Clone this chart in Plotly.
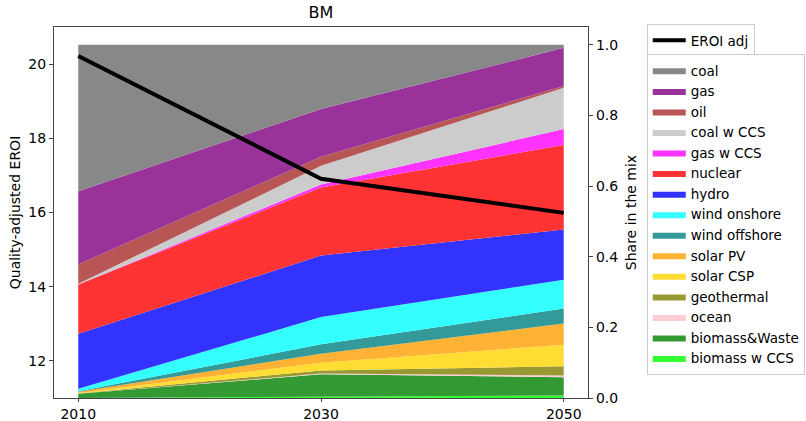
import plotly.graph_objects as go

years = [2010, 2030, 2050]
eroi_adj = [20.22, 16.91, 15.99]

# shares, stacking order from bottom to top
biomass_ccs = [0.000, 0.004, 0.007]
biomass_waste = [0.012, 0.063, 0.052]
ocean = [0.000, 0.002, 0.005]
geothermal = [0.001, 0.009, 0.026]
solar_csp = [0.001, 0.022, 0.061]
solar_pv = [0.004, 0.025, 0.060]
wind_offshore = [0.001, 0.027, 0.042]
wind_onshore = [0.007, 0.077, 0.082]
hydro = [0.156, 0.174, 0.142]
nuclear = [0.139, 0.193, 0.239]
gas_ccs = [0.000, 0.008, 0.045]
coal_ccs = [0.002, 0.053, 0.117]
oil = [0.055, 0.026, 0.005]
gas = [0.207, 0.135, 0.108]
coal = [0.415, 0.182, 0.009]

series = [
    ("biomass w CCS", biomass_ccs, "#33ff33"),
    ("biomass&Waste", biomass_waste, "#339933"),
    ("ocean", ocean, "#ffccd5"),
    ("geothermal", geothermal, "#999933"),
    ("solar CSP", solar_csp, "#ffdd33"),
    ("solar PV", solar_pv, "#ffb233"),
    ("wind offshore", wind_offshore, "#339999"),
    ("wind onshore", wind_onshore, "#33ffff"),
    ("hydro", hydro, "#3333ff"),
    ("nuclear", nuclear, "#ff3333"),
    ("gas w CCS", gas_ccs, "#ff33ff"),
    ("coal w CCS", coal_ccs, "#cccccc"),
    ("oil", oil, "#b85555"),
    ("gas", gas, "#993399"),
    ("coal", coal, "#888888"),
]

fig = go.Figure()
for name, vals, col in series:
    fig.add_trace(go.Scatter(
        x=years, y=vals, name=name, mode="lines",
        stackgroup="mix", line=dict(width=0, color=col),
        fillcolor=col, yaxis="y", legend="legend2",
    ))

fig.add_trace(go.Scatter(
    x=years, y=eroi_adj, name="EROI adj", mode="lines",
    line=dict(color="black", width=4), yaxis="y2", legend="legend",
))

font = dict(family="DejaVu Sans", size=13, color="black")
tickfont = dict(family="DejaVu Sans", size=14, color="black")
titlefont = dict(family="DejaVu Sans", size=14, color="black")
legfont = dict(family="DejaVu Sans", size=13.5, color="black")
fig.update_layout(
    width=806, height=421,
    margin=dict(l=54, r=218, t=27, b=23, autoexpand=False),
    paper_bgcolor="white", plot_bgcolor="white",
    font=font,
    showlegend=True,
    title=dict(text="BM", x=(54 + 588) / 2 / 806, xanchor="center",
               yref="container", y=1 - 12 / 421, yanchor="middle",
               font=dict(family="DejaVu Sans", size=16, color="black")),
    xaxis=dict(range=[2008, 2052], tickvals=years, ticktext=[str(y) for y in years],
               showline=True, linecolor="#444", linewidth=1.2, mirror=True,
               ticks="outside", ticklen=3, tickcolor="#444", showgrid=False,
               zeroline=False, tickfont=tickfont, automargin=False),
    yaxis=dict(range=[0, 1.05], side="right", tickvals=[0, 0.2, 0.4, 0.6, 0.8, 1.0],
               tickformat=".1f", title=dict(text="Share in the mix", standoff=8,
                                            font=titlefont),
               showline=True, linecolor="#444", linewidth=1.2,
               ticks="outside", ticklen=4, tickcolor="#444", showgrid=False,
               zeroline=False, tickfont=tickfont, automargin=False),
    yaxis2=dict(range=[11, 21], side="left", overlaying="y",
                tickvals=[12, 14, 16, 18, 20],
                title=dict(text="Quality-adjusted EROI", standoff=4, font=titlefont),
                showline=True, linecolor="#444", linewidth=1.2,
                ticks="outside", ticklen=4, tickcolor="#444", showgrid=False,
                zeroline=False, tickfont=tickfont, automargin=False),
    legend=dict(x=1.11, y=1.008, xanchor="left", yanchor="top",
                bordercolor="#cccccc", borderwidth=1, bgcolor="white",
                font=legfont, itemwidth=33),
    legend2=dict(x=1.11, y=0.927, xanchor="left", yanchor="top",
                 bordercolor="#cccccc", borderwidth=1, bgcolor="white",
                 traceorder="reversed", font=legfont, tracegroupgap=0,
                 itemwidth=33),
)

fig.write_html("out.html",
               config={"displayModeBar": False},
               post_script="document.body.style.margin='0';"
                           "document.body.style.overflow='hidden';")
